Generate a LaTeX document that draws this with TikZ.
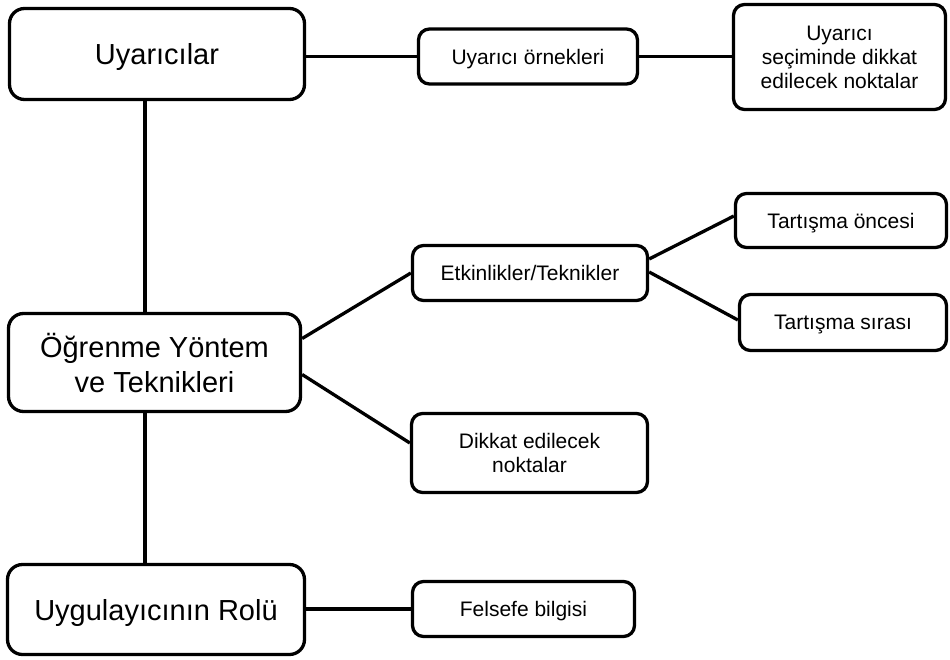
\documentclass[tikz,border=0pt]{standalone}
\usepackage{fontspec}
\setmainfont{Liberation Sans}
\begin{document}
\begin{tikzpicture}[x=1pt,y=-1pt,
  box/.style={draw=black, line width=3.3pt, fill=white, align=center, inner sep=0pt},
  bigbox/.style={box, rounded corners=15pt, font=\fontsize{29}{35}\selectfont},
  smallbox/.style={box, rounded corners=11pt, font=\fontsize{21}{24}\selectfont},
  oneline/.style={text depth=0pt},
  link/.style={draw=black, line width=3.3pt}]
\useasboundingbox (0,0) rectangle (950,659);
\coordinate (spine) at (145,0);
% main boxes
\node[bigbox, oneline, minimum width=295pt, minimum height=91pt] (ua) at (157,54) {Uyarıcılar};
\node[bigbox, minimum width=292pt, minimum height=98pt] (og) at (154.5,362.5) {Öğrenme Yöntem\\ve Teknikleri};
\node[bigbox, oneline, minimum width=297pt, minimum height=90pt] (ur) at (156,609.5) {Uygulayıcının Rolü};
% small boxes
\node[smallbox, oneline, minimum width=219pt, minimum height=55pt] (uo) at (528,56.5) {Uyarıcı örnekleri};
\node[smallbox, minimum width=212pt, minimum height=105pt] (us) at (839.5,57) {Uyarıcı\\seçiminde dikkat\\edilecek noktalar};
\node[smallbox, oneline, minimum width=235pt, minimum height=55pt] (et) at (530,273) {Etkinlikler/Teknikler};
\node[smallbox, oneline, minimum width=211pt, minimum height=54pt] (to) at (841,220.5) {Tartışma öncesi};
\node[smallbox, oneline, minimum width=207pt, minimum height=56pt] (ts) at (843,322.5) {Tartışma sırası};
\node[smallbox, minimum width=236pt, minimum height=79pt] (dk) at (529.5,453) {Dikkat edilecek\\noktalar};
\node[smallbox, oneline, minimum width=222pt, minimum height=55pt] (fb) at (523.5,609) {Felsefe bilgisi};
% connectors
\draw[link] (ua.south -| spine) -- (og.north -| spine);
\draw[link] (og.south -| spine) -- (ur.north -| spine);
\draw[link] (uo.west -| ua.east) -- (uo.west);
\draw[link] (uo.east) -- (uo.east -| us.west);
\draw[link] ([yshift=24pt]og.east) -- (et.west);
\draw[link] ([yshift=-12pt]og.east) -- ([yshift=10pt]dk.west);
\draw[link] ([yshift=14pt]et.east) -- ([yshift=4.5pt]to.west);
\draw[link] ([yshift=1pt]et.east) -- ([yshift=2.5pt]ts.west);
\draw[link] (fb.west -| ur.east) -- (fb.west);
\end{tikzpicture}
\end{document}
